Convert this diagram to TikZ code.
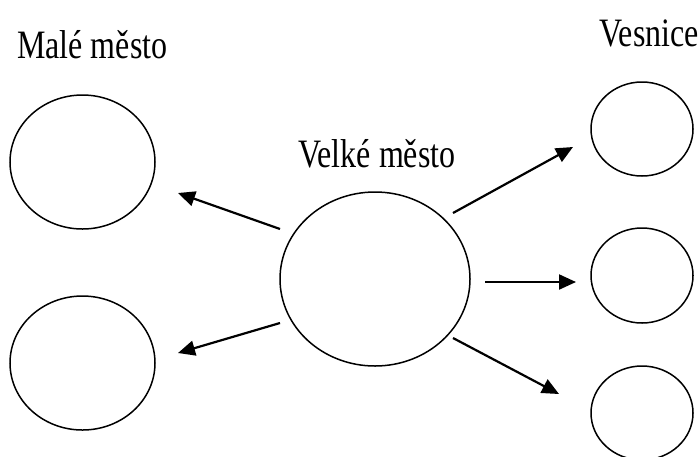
\documentclass[tikz,border=0pt]{standalone}
\usepackage{fontspec}
\setmainfont{Liberation Serif}
\usetikzlibrary{shapes.geometric,arrows.meta}
\newcommand{\tall}[1]{\scalebox{1}[1.26]{#1}}
\tikzset{
  town/.style={draw, ellipse, line width=1.5pt, inner sep=0pt},
  label/.style={anchor=base west, inner sep=0pt, font=\fontsize{32}{36}\selectfont},
  arr/.style={line width=2.2pt, -{Triangle[length=17pt,width=15pt]}}
}
\begin{document}
\begin{tikzpicture}[x=1pt,y=-1pt]
\useasboundingbox (0,0) rectangle (700,456);
% labels
\node[label] (lm) at (17,58) {\tall{Malé město}};
\node[label] (lv) at (298,167) {\tall{Velké město}};
\node[label] (lw) at (599,46) {\tall{Vesnice}};
% towns
\node[town, minimum width=145pt, minimum height=134pt] (m1) at (82.5,162) {};
\node[town, minimum width=145pt, minimum height=134pt] (m2) at (82.5,363) {};
\node[town, minimum width=190pt, minimum height=174pt] (c) at (375,279) {};
\node[town, minimum width=102pt, minimum height=94pt] (v1) at (642,129) {};
\node[town, minimum width=102pt, minimum height=95pt] (v2) at (642,275.5) {};
\node[town, minimum width=102pt, minimum height=94pt] (v3) at (642,413) {};
% arrow ends
\coordinate (s1) at (280,229); \coordinate (e1) at (178,193);
\coordinate (s2) at (280,323); \coordinate (e2) at (178,353);
\coordinate (s3) at (453,213); \coordinate (e3) at (573,147);
\coordinate (s4) at (485,282); \coordinate (e4) at (576,282);
\coordinate (s5) at (453,338); \coordinate (e5) at (559,394);
\draw[arr] (s1) -- (e1);
\draw[arr] (s2) -- (e2);
\draw[arr] (s3) -- (e3);
\draw[arr] (s4) -- (e4);
\draw[arr] (s5) -- (e5);
\end{tikzpicture}
\end{document}
